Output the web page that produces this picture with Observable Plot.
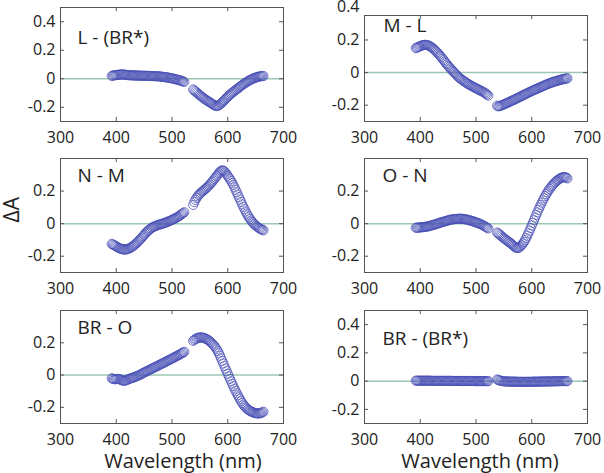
<!DOCTYPE html>
<html><head><meta charset="utf-8">
<script src="https://cdn.jsdelivr.net/npm/d3@7"></script>
<script src="https://cdn.jsdelivr.net/npm/@observablehq/plot@0.6"></script>
<style>
body{margin:0;background:#fff;}
#chart{position:relative;width:604px;height:473px;overflow:hidden;font-family:"Open Sans",sans-serif;}
.panel{position:absolute;}
</style></head><body><div id="chart"></div>
<script>
const wavelengths = [
392,394,396,398,400,402,404,406,408,410,
412,414,416,418,420,422,424,426,428,430,
432,434,436,438,440,442,444,446,448,450,
452,454,456,458,460,462,464,466,468,470,
472,474,476,478,480,482,484,486,488,490,
492,494,496,498,500,502,504,506,508,510,
512,514,516,518,520,522,
538,540,542,544,546,548,550,552,554,556,
558,560,562,564,566,568,570,572,574,576,
578,580,582,584,586,588,590,592,594,596,
598,600,602,604,606,608,610,612,614,616,
618,620,622,624,626,628,630,632,634,636,
638,640,642,644,646,648,650,652,654,656,
658,660,662,664];

const panelTitles = ["L - (BR*)", "M - L", "N - M", "O - N", "BR - O", "BR - (BR*)"];
const xTicks = [300, 400, 500, 600, 700];
const yTicksWide = [-0.2, 0, 0.2, 0.4];
const yTicksNarrow = [-0.2, 0, 0.2];
const xLabel = "Wavelength (nm)";
const yLabel = "ΔA";

const lMinusBRstar = [
.020,.022,.024,.025,.026,.027,.028,.029,.030,.030,
.030,.029,.028,.027,.026,.025,.025,.024,.024,.024,
.023,.023,.023,.022,.022,.022,.022,.021,.021,.021,
.021,.020,.020,.020,.020,.019,.019,.019,.018,.018,
.018,.017,.017,.016,.015,.014,.013,.012,.011,.010,
.009,.007,.006,.004,.003,.001,-.001,-.003,-.005,-.007,
-.009,-.011,-.013,-.016,-.019,-.022,
-.075,-.082,-.089,-.096,-.103,-.110,-.116,-.122,-.128,-.134,
-.140,-.146,-.151,-.156,-.161,-.166,-.171,-.176,-.181,-.186,
-.190,-.192,-.190,-.186,-.180,-.173,-.166,-.158,-.150,-.142,
-.134,-.127,-.119,-.112,-.105,-.098,-.092,-.086,-.080,-.074,
-.068,-.062,-.056,-.050,-.044,-.038,-.033,-.028,-.023,-.018,
-.013,-.009,-.005,-.001,.002,.005,.008,.011,.013,.015,
.017,.018,.019,.019];

const mMinusL = [
.150,.153,.156,.159,.162,.165,.167,.169,.170,.170,
.169,.167,.164,.160,.156,.151,.145,.139,.132,.125,
.118,.110,.102,.094,.085,.076,.067,.058,.050,.042,
.034,.026,.018,.011,.004,-.003,-.011,-.018,-.025,-.031,
-.037,-.042,-.047,-.052,-.057,-.061,-.066,-.070,-.074,-.078,
-.082,-.086,-.089,-.093,-.096,-.100,-.103,-.107,-.110,-.114,
-.117,-.121,-.125,-.130,-.135,-.141,
-.203,-.207,-.206,-.204,-.201,-.198,-.195,-.192,-.189,-.186,
-.183,-.180,-.176,-.173,-.170,-.167,-.164,-.160,-.157,-.154,
-.150,-.147,-.143,-.140,-.136,-.133,-.130,-.126,-.123,-.120,
-.117,-.113,-.110,-.107,-.104,-.101,-.098,-.095,-.092,-.089,
-.086,-.083,-.080,-.077,-.074,-.071,-.068,-.066,-.063,-.061,
-.058,-.056,-.054,-.052,-.050,-.048,-.046,-.044,-.042,-.041,
-.039,-.038,-.036,-.035];

const nMinusM = [
-.125,-.128,-.132,-.136,-.140,-.144,-.148,-.151,-.154,-.156,
-.158,-.159,-.159,-.158,-.156,-.154,-.151,-.147,-.143,-.138,
-.133,-.127,-.121,-.114,-.107,-.100,-.093,-.085,-.077,-.069,
-.061,-.054,-.047,-.041,-.035,-.030,-.025,-.021,-.018,-.015,
-.012,-.010,-.007,-.005,-.003,-.001,.001,.003,.006,.008,
.011,.014,.017,.020,.023,.026,.030,.033,.037,.041,
.045,.050,.055,.060,.065,.070,
.115,.132,.146,.158,.168,.176,.183,.190,.196,.202,
.208,.214,.220,.227,.234,.241,.249,.257,.265,.274,
.283,.292,.301,.310,.318,.324,.327,.326,.321,.313,
.303,.293,.283,.273,.262,.250,.237,.223,.208,.193,
.178,.163,.148,.133,.118,.103,.089,.075,.062,.050,
.039,.029,.019,.010,.002,-.005,-.011,-.017,-.022,-.027,
-.031,-.035,-.038,-.041];

const oMinusN = [
-.025,-.025,-.024,-.024,-.023,-.022,-.022,-.021,-.020,-.019,
-.018,-.017,-.015,-.013,-.011,-.009,-.007,-.005,-.003,-.001,
.002,.004,.006,.008,.010,.012,.014,.016,.018,.020,
.022,.024,.025,.026,.027,.028,.029,.029,.030,.030,
.030,.030,.029,.028,.027,.026,.025,.023,.021,.019,
.017,.015,.013,.010,.008,.005,.003,.000,-.003,-.006,
-.009,-.013,-.017,-.021,-.025,-.030,
-.055,-.060,-.066,-.072,-.078,-.084,-.090,-.095,-.100,-.105,
-.110,-.115,-.120,-.126,-.132,-.138,-.144,-.148,-.150,-.149,
-.145,-.139,-.132,-.123,-.113,-.101,-.088,-.074,-.059,-.043,
-.027,-.011,.005,.021,.037,.053,.069,.085,.100,.115,
.129,.143,.156,.169,.181,.192,.203,.213,.222,.231,
.239,.247,.254,.260,.266,.271,.276,.280,.283,.285,
.286,.285,.282,.278];

const brMinusO = [
-.020,-.023,-.025,-.026,-.025,-.024,-.024,-.026,-.029,-.032,
-.034,-.035,-.034,-.032,-.029,-.026,-.023,-.020,-.018,-.016,
-.014,-.011,-.008,-.005,-.002,.001,.004,.008,.012,.016,
.019,.023,.026,.029,.033,.036,.040,.043,.047,.050,
.053,.057,.060,.064,.067,.071,.074,.078,.081,.085,
.088,.092,.095,.099,.102,.106,.110,.113,.117,.120,
.124,.128,.132,.136,.140,.144,
.212,.218,.223,.227,.230,.232,.233,.233,.232,.231,
.229,.226,.223,.219,.214,.208,.202,.195,.188,.181,
.171,.160,.148,.135,.120,.104,.088,.072,.056,.040,
.024,.008,-.008,-.024,-.039,-.054,-.069,-.084,-.098,-.112,
-.125,-.138,-.150,-.162,-.173,-.183,-.192,-.200,-.207,-.213,
-.218,-.222,-.226,-.229,-.232,-.234,-.236,-.237,-.238,-.237,
-.236,-.234,-.231,-.227];

const brMinusBRstar = [
.003,.003,.003,.003,.003,.003,.003,.003,.003,.003,
.003,.003,.003,.003,.002,.002,.002,.002,.002,.002,
.002,.002,.002,.002,.002,.002,.002,.002,.002,.002,
.002,.002,.002,.001,.001,.001,.001,.001,.001,.001,
.001,.001,.001,.001,.001,.001,.001,.001,.001,.001,
.001,.001,.001,.000,.000,.000,.000,.000,.000,.000,
.000,.000,.000,.000,.000,.000,
.012,.008,.005,.003,.001,.000,-.001,-.002,-.002,-.003,
-.003,-.003,-.003,-.004,-.004,-.004,-.004,-.004,-.005,-.005,
-.005,-.005,-.005,-.005,-.005,-.005,-.005,-.005,-.005,-.005,
-.005,-.005,-.004,-.004,-.004,-.004,-.004,-.004,-.003,-.003,
-.003,-.003,-.003,-.003,-.002,-.002,-.002,-.002,-.002,-.002,
-.001,-.001,-.001,-.001,-.001,-.001,.000,.000,.000,.000,
.000,.000,.000,.000];

const panels = [
  {title: panelTitles[0], values: lMinusBRstar, left: 0, top: 0, width: 302, height: 150, mL: 60, mR: 19, mT: 7, mB: 29, yDomain: [-0.3, 0.5], yTicks: yTicksWide, tDx: 17, tDy: 30},
  {title: panelTitles[1], values: mMinusL, left: 302, top: 0, width: 302, height: 150, mL: 62, mR: 17, mT: 15, mB: 29, yDomain: [-0.3, 0.35], yTicks: yTicksWide, tDx: 19, tDy: 10},
  {title: panelTitles[2], values: nMinusM, left: 0, top: 150, width: 302, height: 150, mL: 60, mR: 19, mT: 8, mB: 28, yDomain: [-0.3, 0.4], yTicks: yTicksNarrow, tDx: 17, tDy: 17, yLab: true},
  {title: panelTitles[3], values: oMinusN, left: 302, top: 150, width: 302, height: 150, mL: 62, mR: 17, mT: 8, mB: 28, yDomain: [-0.3, 0.4], yTicks: yTicksNarrow, tDx: 18, tDy: 17},
  {title: panelTitles[4], values: brMinusO, left: 0, top: 300, width: 302, height: 173, mL: 60, mR: 19, mT: 10, mB: 50, yDomain: [-0.3, 0.4], yTicks: yTicksNarrow, tDx: 17, tDy: 17, xLabDx: 11},
  {title: panelTitles[5], values: brMinusBRstar, left: 302, top: 300, width: 302, height: 173, mL: 62, mR: 17, mT: 10, mB: 50, yDomain: [-0.3, 0.5], yTicks: yTicksWide, tDx: 18, tDy: 28, xLabDx: 4}
];

const chart = document.getElementById("chart");
const frameColor = "#555";

for (const p of panels) {
  const innerW = p.width - p.mL - p.mR;
  const innerH = p.height - p.mT - p.mB;
  const data = wavelengths.map((w, i) => ({w, v: p.values[i]}));
  const innerXTicks = xTicks.slice(1, -1);
  const innerYTicks = p.yTicks.filter(t => t > p.yDomain[0] && t < p.yDomain[1]);
  const marks = [
    Plot.ruleY([0], {stroke: "#9cc7b2", strokeWidth: 1.5}),
    Plot.dot(data, {x: "w", y: "v", r: 4.6, stroke: "#4a50b6", strokeOpacity: 0.85, strokeWidth: 0.9, fill: "none"}),
    Plot.frame({stroke: frameColor, strokeWidth: 1}),
    Plot.tickX(innerXTicks, {x: d => d, insetTop: innerH - 4, stroke: frameColor}),
    Plot.tickX(innerXTicks, {x: d => d, insetBottom: innerH - 4, stroke: frameColor}),
    Plot.tickY(innerYTicks, {y: d => d, insetRight: innerW - 4, stroke: frameColor}),
    Plot.tickY(innerYTicks, {y: d => d, insetLeft: innerW - 4, stroke: frameColor}),
    Plot.axisX(xTicks, {tickSize: 0, tickPadding: 10, fontSize: 16, label: null}),
    Plot.axisY(p.yTicks, {tickSize: 0, tickPadding: 5, fontSize: 16, label: null, tickFormat: d => d === 0 ? "0" : String(d)}),
    Plot.text([p.title], {text: d => d, frameAnchor: "top-left", dx: p.tDx, dy: p.tDy, textAnchor: "start", lineAnchor: "middle", fontSize: 19, fill: "#222"})
  ];
  if (p.yLab) {
    marks.push(Plot.text([yLabel], {text: d => d, frameAnchor: "left", dx: -48, dy: 7, rotate: -90, fontSize: 21, fill: "#222"}));
  }
  if (p.xLabDx !== undefined) {
    marks.push(Plot.text([xLabel], {text: d => d, frameAnchor: "bottom", dx: p.xLabDx, dy: 44, lineAnchor: "bottom", fontSize: 20, fill: "#222"}));
  }
  const svg = Plot.plot({
    width: p.width,
    height: p.height,
    marginLeft: p.mL,
    marginRight: p.mR,
    marginTop: p.mT,
    marginBottom: p.mB,
    x: {domain: [300, 700]},
    y: {domain: p.yDomain},
    style: {fontFamily: "Open Sans", color: "#222", background: "transparent", overflow: "visible"},
    marks
  });
  const div = document.createElement("div");
  div.className = "panel";
  div.style.left = p.left + "px";
  div.style.top = p.top + "px";
  div.appendChild(svg);
  chart.appendChild(div);
}
</script></body></html>
